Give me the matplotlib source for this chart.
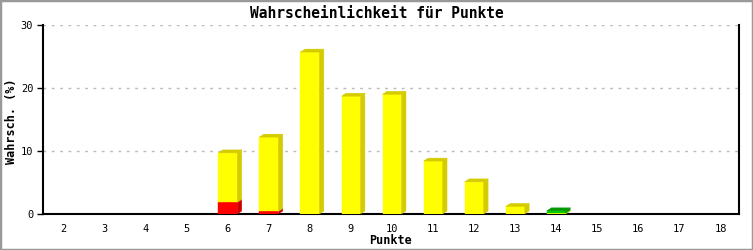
import matplotlib.pyplot as plt
from matplotlib.patches import Polygon, Rectangle

points = list(range(2, 19))
red = [0, 0, 0, 0, 1.85, 0.4, 0, 0, 0, 0, 0, 0, 0, 0, 0, 0, 0]
yellow = [0, 0, 0, 0, 7.85, 11.8, 25.7, 18.7, 19.0, 8.4, 5.1, 1.2, 0.15, 0, 0, 0, 0]
green = [0, 0, 0, 0, 0, 0, 0, 0, 0, 0, 0, 0, 0.35, 0, 0, 0, 0]

series = [
    (red, "#ff0000", "#cc0000"),
    (yellow, "#ffff00", "#d4cc00"),
    (green, "#00cc00", "#009900"),
]

W, H = 753, 250
fig = plt.figure(figsize=(W / 100, H / 100), dpi=100)
ax = fig.add_axes([43 / W, 36 / H, (739 - 43) / W, (214 - 25) / H])
ax.set_xlim(1.5, 18.45)
ax.set_ylim(0, 30)

mono = "DejaVu Sans Mono"
bw = 0.46
# 3D depth in data units (~4.5 px right, ~3 px up)
dx = 4.5 / (696 / (18.45 - 1.5))
dy = 3.0 / (189 / 30)

tops = [0.0] * len(points)
for vals, col, dark in series:
    for i, (x, v) in enumerate(zip(points, vals)):
        if v <= 0:
            continue
        b = tops[i]
        x0, x1 = x - bw / 2, x + bw / 2
        ax.add_patch(Rectangle((x0, b), bw, v, facecolor=col, edgecolor=col,
                               linewidth=0.3, zorder=3))
        side = [(x1, b), (x1 + dx, b + dy), (x1 + dx, b + v + dy), (x1, b + v)]
        ax.add_patch(Polygon(side, facecolor=dark, edgecolor=dark, linewidth=0.3, zorder=3))
        tops[i] = b + v

# top faces take the colour of the uppermost segment
for i, x in enumerate(points):
    if tops[i] <= 0:
        continue
    dark = None
    for vals, col, d in series:
        if vals[i] > 0:
            dark = d
    x0, x1 = x - bw / 2, x + bw / 2
    t = tops[i]
    top = [(x0, t), (x0 + dx, t + dy), (x1 + dx, t + dy), (x1, t)]
    ax.add_patch(Polygon(top, facecolor=dark, edgecolor=dark, linewidth=0.3, zorder=3))

ax.set_yticks([0, 10, 20, 30])
ax.set_xticks(points)
ax.yaxis.grid(True, color="#bbbbbb", linestyle=(0, (2, 4)), linewidth=1)
ax.set_axisbelow(True)
ax.tick_params(axis="y", length=4, width=1, labelsize=7.5, pad=3)
ax.tick_params(axis="x", length=0, labelsize=7.5, pad=7)
for lab in ax.get_xticklabels() + ax.get_yticklabels():
    lab.set_family(mono)

ax.spines["top"].set_visible(False)
for s in ("left", "bottom", "right"):
    ax.spines[s].set_linewidth(1.5)

ax.set_xlabel("Punkte", family=mono, fontweight="bold", fontsize=8.5, va="center")
ax.xaxis.set_label_coords(0.5, -(240 - 214) / 189)
ax.set_ylabel("Wahrsch. (%)", family=mono, fontweight="bold", fontsize=8.5, va="center")
ax.yaxis.set_label_coords(-(43 - 11) / 696, 0.49)
fig.text(0.5, 1 - 13 / H, "Wahrscheinlichkeit für Punkte", family=mono,
         fontweight="bold", fontsize=10.5, ha="center", va="center")

fig.patches.append(Rectangle((0, 0), 1, 1, transform=fig.transFigure,
                             facecolor="none", edgecolor="#999999", linewidth=2.5))

fig.savefig("out.png", dpi=100)
